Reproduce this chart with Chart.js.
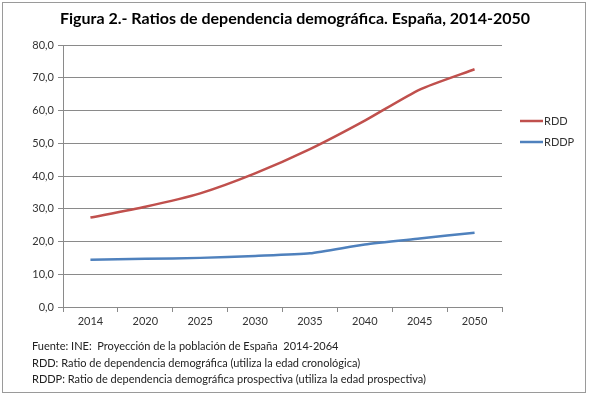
<!DOCTYPE html>
<html>
<head>
<meta charset="utf-8">
<script src="https://cdn.jsdelivr.net/npm/chart.js@4/dist/chart.umd.min.js"></script>
<style>
  html, body { margin: 0; padding: 0; background: #fff; }
  #wrap { position: relative; width: 590px; height: 396px; }
  #frame { position: absolute; left: 2px; top: 2px; width: 584px; height: 391px; border: 1px solid #9a9a9a; box-sizing: border-box; }
  #title { position: absolute; left: 0; top: 8px; width: 590px; text-align: center; font-family: Lato, "Open Sans", sans-serif; font-size: 16px; font-weight: bold; color: #000; }
  #notes { position: absolute; left: 32px; top: 338px; font-family: Lato, "Open Sans", sans-serif; font-size: 11px; line-height: 16.5px; color: #222; }
</style>
</head>
<body>
<div id="wrap">
  <canvas id="chart" width="590" height="396"></canvas>
  <div id="frame"></div>
  <div id="title">Figura 2.- Ratios de dependencia demográfica. España, 2014-2050</div>
  <div id="notes">
    Fuente: INE:&nbsp; Proyección de la población de España&nbsp; 2014-2064<br>
    RDD: Ratio de dependencia demográfica (utiliza la edad cronológica)<br>
    RDDP: Ratio de dependencia demográfica prospectiva (utiliza la edad prospectiva)
  </div>
</div>
<script>
// datos
const years = ["2014", "2020", "2025", "2030", "2035", "2040", "2045", "2050"];
const rdd = [27.3, 30.6, 34.7, 40.8, 48.2, 56.9, 66.4, 72.6];
const rddp = [14.4, 14.7, 15.0, 15.6, 16.4, 19.1, 20.9, 22.7];
const seriesNames = ["RDD", "RDDP"];

const gridColor = "#8a8a8a";
const textColor = "#333";

// leyenda a la derecha, dibujada a mano
const sideLegend = {
    id: "sideLegend",
    afterDraw(chart) {
        const ctx = chart.ctx;
        ctx.save();
        ctx.font = "11px Lato, 'Open Sans', sans-serif";
        ctx.textBaseline = "middle";
        chart.data.datasets.forEach((ds, i) => {
            let y = 121 + i * 21;
            ctx.strokeStyle = ds.borderColor;
            ctx.lineWidth = 2.5;
            ctx.beginPath();
            ctx.moveTo(520, y);
            ctx.lineTo(543, y);
            ctx.stroke();
            ctx.fillStyle = textColor;
            ctx.fillText(ds.label, 544, y);
        });
        ctx.restore();
    }
};

new Chart(document.getElementById("chart"), {
    type: "line",
    data: {
        labels: years,
        datasets: [
            { label: seriesNames[0], data: rdd, borderColor: "#C0504D", borderWidth: 2.5, pointRadius: 0, tension: 0.2, fill: false },
            { label: seriesNames[1], data: rddp, borderColor: "#4F81BD", borderWidth: 2.5, pointRadius: 0, tension: 0.2, fill: false }
        ]
    },
    options: {
        responsive: false,
        animation: false,
        layout: { padding: { left: 20, right: 88, top: 45, bottom: 65 } },
        plugins: {
            legend: { display: false },
            tooltip: { enabled: false },
            title: { display: false }
        },
        scales: {
            x: {
                offset: true,
                grid: { offset: true, drawOnChartArea: false, drawTicks: true, tickLength: 5, color: gridColor },
                border: { color: gridColor },
                ticks: { color: textColor, font: { family: "Lato, 'Open Sans', sans-serif", size: 11 }, padding: 3 },
                afterFit(scale) { scale.height = 24; }
            },
            y: {
                min: 0,
                max: 80,
                ticks: {
                    stepSize: 10,
                    color: textColor,
                    font: { family: "Lato, 'Open Sans', sans-serif", size: 11 },
                    padding: 4,
                    callback: v => v.toFixed(1).replace(".", ",")
                },
                grid: { color: gridColor, tickLength: 5 },
                border: { color: gridColor },
                afterFit(scale) { scale.width = 43; }
            }
        }
    },
    plugins: [sideLegend]
});
</script>
</body>
</html>
